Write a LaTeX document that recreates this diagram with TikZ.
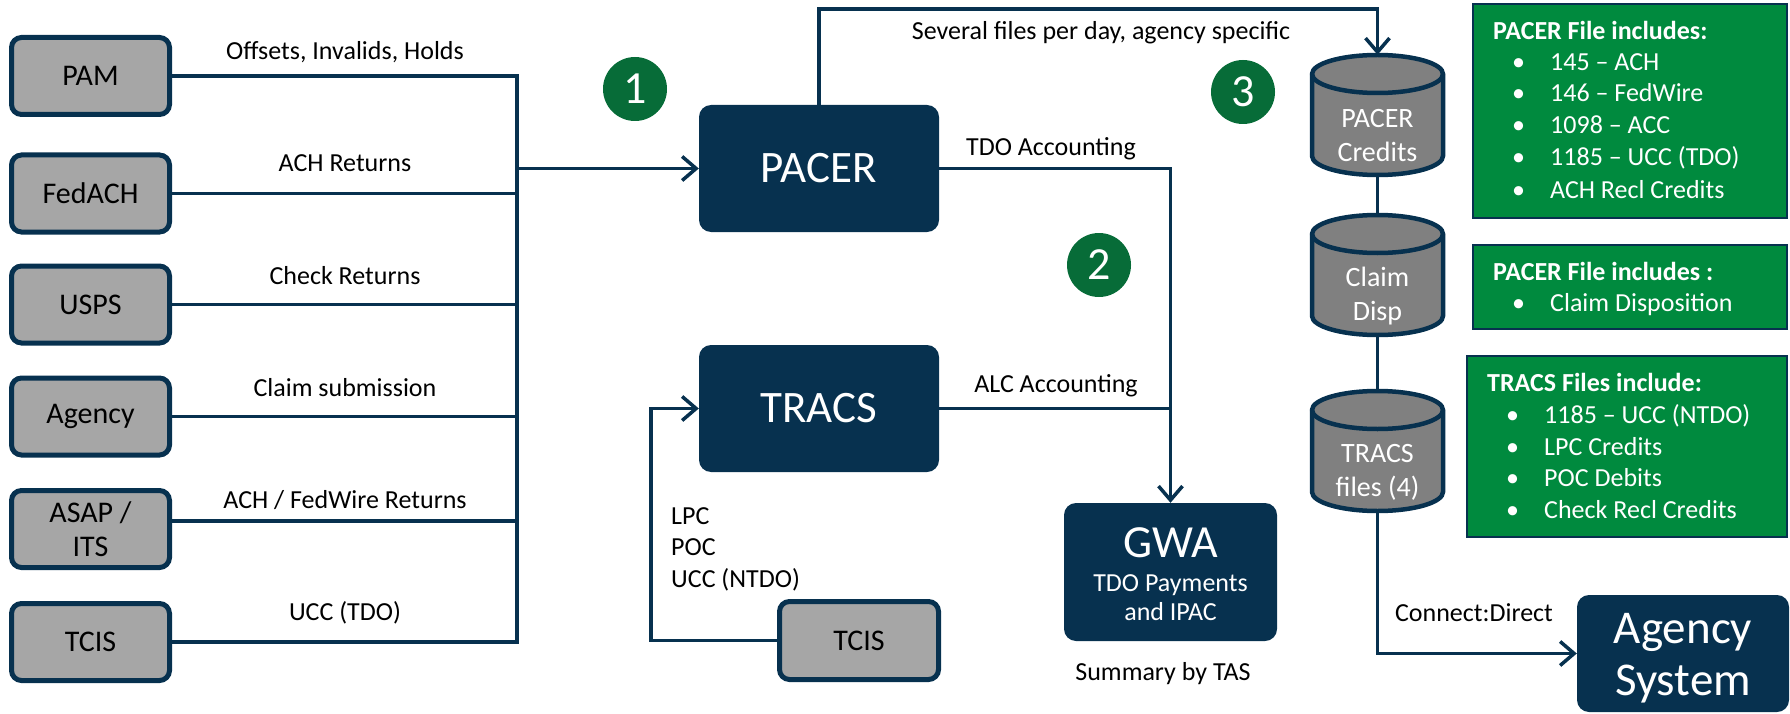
\documentclass[tikz,border=0pt]{standalone}
\usepackage{fontspec}
\setmainfont{Carlito}
\usetikzlibrary{arrows.meta}
\definecolor{navy}{HTML}{07314F}
\definecolor{boxgray}{HTML}{A6A6A6}
\definecolor{cylgray}{HTML}{808080}
\definecolor{listgreen}{HTML}{008A3E}
\definecolor{badgegreen}{HTML}{076C38}
\newcommand\fs[2]{\fontsize{#1}{#2}\selectfont}
\newcommand\drawcyl[2]{%
  \filldraw[fill=cylgray,draw=navy,line width=4.5pt]
    (#1-65.5,#2-41) -- (#1-65.5,#2+41)
    arc[start angle=180,end angle=360,x radius=65.5pt,y radius=19pt]
    -- (#1+65.5,#2-41)
    arc[start angle=0,end angle=180,x radius=65.5pt,y radius=19pt] -- cycle;
  \draw[navy,line width=4.5pt] (#1-65.5,#2-41)
    arc[start angle=180,end angle=360,x radius=65.5pt,y radius=19pt];
}
\begin{document}
\begin{tikzpicture}[x=1pt,y=-1pt,
  src/.style={draw=navy,line width=5pt,fill=boxgray,rounded corners=10pt,
    minimum width=158pt,minimum height=77pt,inner sep=0pt,align=center,
    font=\fs{30}{34},text=black},
  sys/.style={fill=navy,rounded corners=12pt,text=white,inner sep=0pt,align=center},
  cylbox/.style={minimum width=131pt,minimum height=120pt,inner sep=0pt},
  cyltext/.style={text=white,font=\fs{28}{34},align=center,inner sep=0pt},
  badge/.style={circle,fill=badgegreen,minimum size=64pt,inner sep=0pt,
    text=white,font=\fs{46}{46}},
  listbox/.style={fill=listgreen,draw=navy,line width=1.5pt,inner sep=0pt},
  lbl/.style={font=\fs{26}{32},inner sep=0pt,anchor=base,text=black},
  lblw/.style={lbl,anchor=base west},
  litem/.style={font=\fs{26}{32},inner sep=0pt,anchor=base west,text=white},
  ltitle/.style={litem,font=\fs{26}{32}\bfseries},
  conn/.style={draw=navy,line width=3.5pt},
  arr/.style={conn,-{Straight Barb[length=14pt,width=24pt]}}
]
\useasboundingbox (0,0) rectangle (1790,714);

% source boxes
\node[src] (pam) at (90.5,76) {PAM};
\node[src] (fedach) at (90.5,193.5) {FedACH};
\node[src] (usps) at (90.5,304.5) {USPS};
\node[src] (agency) at (90.5,416.5) {Agency};
\node[src] (asap) at (90.5,529) {ASAP /\\ITS};
\node[src] (tcis) at (90.5,642) {TCIS};

% systems
\node[sys,minimum width=240pt,minimum height=127pt,font=\fs{45}{50}] (pacer) at (819,168.5) {PACER};
\node[sys,minimum width=240pt,minimum height=127pt,font=\fs{45}{50}] (tracs) at (819,408.5) {TRACS};
\node[src,minimum width=159pt,minimum height=78pt] (tcis2) at (859,640.5) {TCIS};
\node[sys,minimum width=213pt,minimum height=138pt] (gwa) at (1170.5,572) {};
\node[text=white,font=\fs{46}{50},inner sep=0pt,anchor=base] (gwat) at (1170.5,557) {GWA};
\node[text=white,font=\fs{26}{29},inner sep=0pt,anchor=base,align=center] (gwas) at (1170.5,620) {TDO Payments\\and IPAC};
\node[sys,minimum width=212pt,minimum height=117pt] (agsys) at (1683,653.5) {};
\node[text=white,font=\fs{47}{52},inner sep=0pt,anchor=base,align=center] (agsyst) at (1683,695) {Agency\\System};

% cylinders
\drawcyl{1377.5}{115}
\drawcyl{1377.5}{275}
\drawcyl{1377.5}{451}
\node[cylbox] (c1) at (1377.5,115) {};
\node[cylbox] (c2) at (1377.5,275) {};
\node[cylbox] (c3) at (1377.5,451) {};
\node[cyltext] (c1t) at (1377.5,136) {PACER\\Credits};
\node[cyltext] (c2t) at (1377.5,296) {Claim\\Disp};
\node[cyltext] (c3t) at (1377.5,472) {TRACS\\files (4)};

% badges
\node[badge] (b1) at (635,89) {1};
\node[badge] (b2) at (1099,265) {2};
\node[badge] (b3) at (1243,92) {3};

% list boxes
\node[listbox,minimum width=314pt,minimum height=214pt] (g1) at (1630,111) {};
\node[listbox,minimum width=314pt,minimum height=84pt] (g2) at (1630,287) {};
\node[listbox,minimum width=320pt,minimum height=181pt] (g3) at (1627,446.5) {};

\node[ltitle] (g1t) at (1493,40) {PACER File includes:};
\foreach \yy/\txt [count=\i] in {71/145 – ACH,102/146 – FedWire,134/1098 – ACC,166/1185 – UCC (TDO),199/ACH Recl Credits}{
  \node[litem] (g1b\i) at (1512,\yy) {•};
  \node[litem] (g1i\i) at (1550,\yy) {\txt};
}
\node[ltitle] (g2t) at (1493,280) {PACER File includes :};
\node[litem] (g2b1) at (1512,311) {•};
\node[litem] (g2i1) at (1550,311) {Claim Disposition};
\node[ltitle] (g3t) at (1487,391) {TRACS Files include:};
\foreach \yy/\txt [count=\i] in {423/1185 – UCC (NTDO),455/LPC Credits,486/POC Debits,518/Check Recl Credits}{
  \node[litem] (g3b\i) at (1506,\yy) {•};
  \node[litem] (g3i\i) at (1544,\yy) {\txt};
}

% connector labels
\node[lbl] (l1) at (345,60) {Offsets, Invalids, Holds};
\node[lbl] (l2) at (345,172) {ACH Returns};
\node[lbl] (l3) at (345,284) {Check Returns};
\node[lbl] (l4) at (345,396) {Claim submission};
\node[lbl] (l5) at (345,508) {ACH / FedWire Returns};
\node[lbl] (l6) at (345,620) {UCC (TDO)};
\node[lbl] (l7) at (1101,40) {Several files per day, agency specific};
\node[lbl] (l8) at (1051,156) {TDO Accounting};
\node[lbl] (l9) at (1056,392) {ALC Accounting};
\node[lblw] (l10) at (671,524) {LPC};
\node[lblw] (l11) at (671,555) {POC};
\node[lblw] (l12) at (671,587) {UCC (NTDO)};
\node[lbl] (l13) at (1163,680) {Summary by TAS};
\node[lbl] (l14) at (1474,621) {Connect:Direct};

% connectors
\coordinate (bus) at (517,168.5);
\coordinate (topline) at (0,9);
\coordinate (loopx) at (651,0);
\coordinate (asapout) at ([yshift=8pt]asap.east);
\draw[conn] (pam.east) -- (pam.east -| bus) -- (tcis.east -| bus) -- (tcis.east);
\draw[conn] (fedach.east) -- (fedach.east -| bus);
\draw[conn] (usps.east) -- (usps.east -| bus);
\draw[conn] (agency.east) -- (agency.east -| bus);
\draw[conn] (asapout) -- (asapout -| bus);
\draw[arr] (pacer.west -| bus) -- (pacer.west);
\draw[arr] (pacer.north) -- (pacer.north |- topline) -- (c1.north |- topline) -- (c1.north);
\draw[arr] (pacer.east) -- (pacer.east -| gwa.north) -- (gwa.north);
\draw[conn] (tracs.east) -- (tracs.east -| gwa.north);
\draw[arr] (tcis2.west) -- (tcis2.west -| loopx) -- (tracs.west -| loopx) -- (tracs.west);
\draw[conn] (c1.south) -- (c2.north);
\draw[conn] (c2.south) -- (c3.north);
\draw[arr] (c3.south) -- (c3.south |- agsys.west) -- (agsys.west);
\end{tikzpicture}
\end{document}
